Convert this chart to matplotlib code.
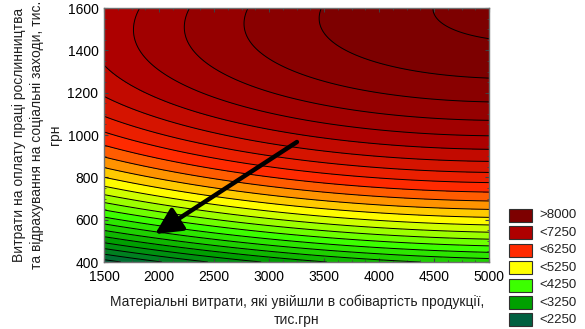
import numpy as np
import matplotlib
matplotlib.use('Agg')
import matplotlib.pyplot as plt
from matplotlib.colors import LinearSegmentedColormap
from matplotlib.patches import Rectangle
from matplotlib.ticker import MultipleLocator

plt.rcParams['font.family'] = ['Liberation Sans', 'DejaVu Sans']

# response surface, cubic in u=(x-3250)/1750, v=(y-1000)/600
# terms: 1, u, v, u^2, uv, v^2, u^3, u^2v, uv^2, v^3
coefs = [6983.5, 526.8, 2228.6, -253.8, -49.9, -1450.8, 7.3, 15.0, 150.1, 161.7]
x_range = [1500, 5000]
y_range = [400, 1600]

levels = list(range(2250, 8001, 250))
line_levels = list(range(2250, 8501, 250))

legend_labels = ['>8000', '<7250', '<6250', '<5250', '<4250', '<3250', '<2250']
legend_colors = ['#7d0000', '#ae0000', '#ff2a00', '#ffff00', '#3cff00', '#00a000', '#006040']

arrow_start = (3254, 967)
arrow_end = (1964, 532)

xlabel = 'Матеріальні витрати, які увійшли в собівартість продукції,\nтис.грн'
ylabel = 'Витрати на оплату праці рослинництва\nта відрахування на соціальні заходи, тис.\nгрн'

cmap = LinearSegmentedColormap.from_list('stat', legend_colors[::-1])

xg = np.linspace(x_range[0], x_range[1], 400)
yg = np.linspace(y_range[0], y_range[1], 400)
X, Y = np.meshgrid(xg, yg)
U = (X - 3250) / 1750
V = (Y - 1000) / 600
terms = [np.ones_like(U), U, V, U**2, U*V, V**2, U**3, U**2*V, U*V**2, V**3]
Z = sum(c * t for c, t in zip(coefs, terms))

fig = plt.figure(figsize=(5.85, 3.29), dpi=100)
ax = fig.add_axes([104/585, 1-262/329, 385/585, 254/329])

fill_levels = [min(Z.min(), levels[0]) - 1] + levels + [max(Z.max(), levels[-1]) + 1]
band_colors = [cmap(k / (len(fill_levels) - 2)) for k in range(len(fill_levels) - 1)]
ax.contourf(X, Y, Z, levels=fill_levels, colors=band_colors)
ax.contour(X, Y, Z, levels=line_levels, colors='k', linewidths=0.7)

ax.annotate('', xy=arrow_end, xytext=arrow_start,
            arrowprops=dict(arrowstyle='-|>,head_length=0.8,head_width=0.4',
                            lw=3.2, color='black', mutation_scale=20,
                            shrinkA=0, shrinkB=0))

ax.set_xlim(x_range)
ax.set_ylim(y_range)
ax.set_xticks(range(1500, 5001, 500))
ax.set_yticks(range(400, 1601, 200))
ax.xaxis.set_minor_locator(MultipleLocator(125))
ax.yaxis.set_minor_locator(MultipleLocator(50))
ax.tick_params(which='both', direction='in', top=True, right=True, colors='#404040',
               labelcolor='black', labelsize=10)
ax.tick_params(which='major', length=3)
ax.tick_params(which='minor', length=1.5)
ax.tick_params(axis='x', pad=6)
ax.tick_params(axis='y', pad=4)
for s in ax.spines.values():
    s.set_color('#707070')
    s.set_linewidth(1)

fig.text(297/585, 1-311/329, xlabel, ha='center', va='center', fontsize=10,
         linespacing=1.35, color='#202020')
fig.text(37/585, 1-135/329, ylabel, ha='center', va='center', rotation=90,
         fontsize=10, linespacing=1.35, color='#202020', multialignment='center')

for i, (lab, col) in enumerate(zip(legend_labels, legend_colors)):
    top = 209 + i * 17.4
    fig.add_artist(Rectangle((509/585, 1-(top+13)/329), 23/585, 13/329,
                             transform=fig.transFigure, facecolor=col,
                             edgecolor='#303030', lw=0.8))
    fig.text(539/585, 1-(top+6.5)/329, lab, ha='left', va='center', fontsize=9.5,
             color='#202020')

fig.savefig('out.png')
